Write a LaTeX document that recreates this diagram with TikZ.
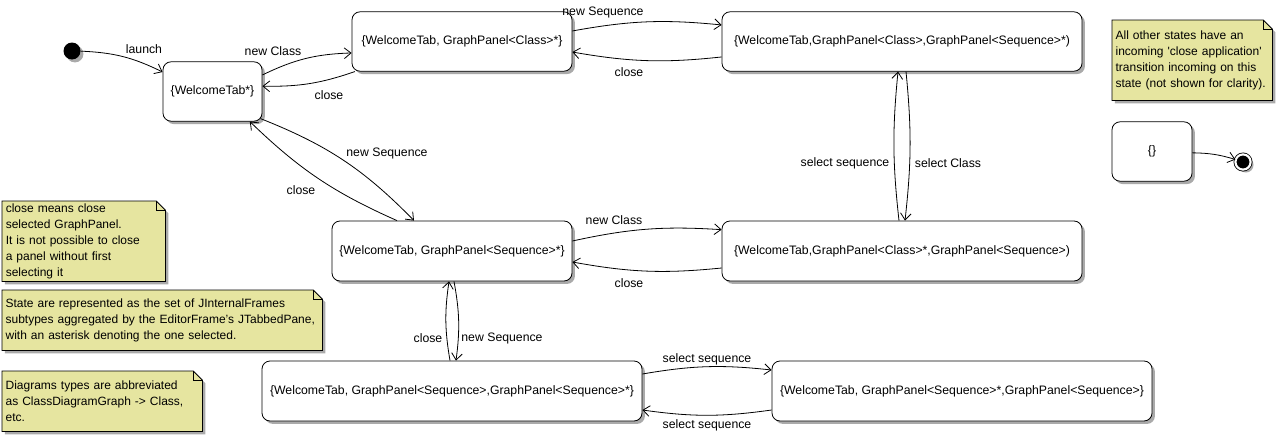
\documentclass[tikz,border=0pt]{standalone}
\usepackage{fontspec}
\setmainfont{Liberation Sans}
\usetikzlibrary{arrows.meta, shadows, backgrounds}
\definecolor{notefill}{RGB}{230,229,160}
\definecolor{shade}{RGB}{170,170,170}

\begin{document}
\begin{tikzpicture}[x=0.75pt, y=-0.75pt,
  font=\fontsize{9.2}{12}\selectfont,
  shd/.style={drop shadow={shadow xshift=2.2pt, shadow yshift=-2.2pt, fill=shade, opacity=1}},
  st/.style={draw, line width=0.6pt, fill=white, rounded corners=6pt, minimum height=44.5pt, inner sep=2pt, shd},
  note/.style={align=left, font=\fontsize{9}{12}\selectfont, inner xsep=2.5pt, inner ysep=0pt, anchor=north west},
  notebg/.style={draw, line width=0.6pt, fill=notefill, shd},
  lbl/.style={inner sep=1pt},
  tr/.style={line width=0.6pt, -{Straight Barb[length=5pt, width=8pt]}},
]
  \useasboundingbox (0,0) rectangle (1278,439);

  \node[circle, fill=black, minimum size=12.75pt, inner sep=0pt, shd] (start) at (72,51) {};
  \node[st, minimum width=74.25pt] (welcome) at (212.5,91.5) {\{WelcomeTab*\}};
  \node[st, minimum width=165pt] (cls) at (462,41.5) {\{WelcomeTab, GraphPanel<Class>*\}};
  \node[st, minimum width=270pt] (clsseq) at (902,41.5) {\{WelcomeTab,GraphPanel<Class>,GraphPanel<Sequence>*)};
  \node[st, minimum width=180pt, minimum height=45pt] (seq) at (452,251) {\{WelcomeTab, GraphPanel<Sequence>*\}};
  \node[st, minimum width=270pt, minimum height=45pt] (clssel) at (902,251) {\{WelcomeTab,GraphPanel<Class>*,GraphPanel<Sequence>)};
  \node[st, minimum width=285pt, minimum height=45pt] (seqseq) at (452,391) {\{WelcomeTab, GraphPanel<Sequence>,GraphPanel<Sequence>*\}};
  \node[st, minimum width=285pt, minimum height=45pt] (seqsel) at (962,391) {\{WelcomeTab, GraphPanel<Sequence>*,GraphPanel<Sequence>\}};
  \node[st, minimum width=60pt] (empty) at (1152,151.5) {\{\}};
  \node[circle, draw, fill=black, line width=0.6pt, double=white, double distance=1.6pt, minimum size=11.4pt, inner sep=0pt, shd] (stop) at (1243,162) {};

  \node[note, minimum width=122.25pt, minimum height=60pt, text width=117pt] (nclose) at (2,201)
    {close means close\\selected GraphPanel.\\It is not possible to close\\a panel without first\\selecting it};
  \node[note, minimum width=240pt, minimum height=45pt, text width=235pt] (nstate) at (2,290)
    {State are represented as the set of JInternalFrames\\subtypes aggregated by the EditorFrame's JTabbedPane,\\with an asterisk denoting the one selected.};
  \node[note, minimum width=150pt, minimum height=45pt, text width=145pt] (ntypes) at (2,371)
    {Diagrams types are abbreviated\\as ClassDiagramGraph -> Class,\\etc.};
  \node[note, minimum width=120pt, minimum height=60pt, text width=115pt] (nother) at (1112,20)
    {All other states have an\\incoming \textquotesingle close application\textquotesingle\\transition incoming on this\\state (not shown for clarity).};
  \begin{scope}[on background layer]
    \foreach \n in {nclose, nstate, ntypes, nother} {
      \draw[notebg] (\n.south west) -- (\n.north west) -- ([xshift=-7pt]\n.north east)
        -- ([yshift=-7pt]\n.north east) -- (\n.south east) -- cycle;
      \draw[line width=0.6pt] ([xshift=-7pt]\n.north east) |- ([yshift=-7pt]\n.north east);
    }
  \end{scope}

  \draw[tr] (start) to[bend left=12] ([yshift=14.6pt]welcome.west);
  \draw[tr] ([yshift=12.4pt]welcome.east) to[bend left=12] ([yshift=-8.6pt]cls.west);
  \draw[tr] ([xshift=2.5pt]cls.south west) to[bend left=10] ([yshift=4pt]welcome.east);
  \draw[tr] ([yshift=7.9pt]cls.east) to[bend left=8] ([yshift=12.4pt]clsseq.west);
  \draw[tr] ([yshift=-11.6pt]clsseq.west) to[bend left=8] ([yshift=-7.9pt]cls.east);
  \draw[tr] ([shift={(-1.5pt,2.25pt)}]welcome.south east) to[bend left=12] ([xshift=-28.5pt]seq.north);
  \draw[tr] ([xshift=-41.25pt]seq.north) to[bend left=10] ([xshift=28pt]welcome.south);
  \draw[tr] ([yshift=7.5pt]seq.east) to[bend left=8] ([yshift=16pt]clssel.west);
  \draw[tr] ([yshift=-12.75pt]clssel.west) to[bend left=8] ([yshift=-8.25pt]seq.east);
  \draw[tr] ([xshift=-2.25pt]clssel.north) to[bend left=6] ([xshift=-3pt]clsseq.south);
  \draw[tr] ([xshift=3pt]clsseq.south) to[bend left=6] ([xshift=2.25pt]clssel.north);
  \draw[tr] ([xshift=-1.5pt]seqseq.north) to[bend left=9] ([xshift=-2.25pt]seq.south);
  \draw[tr] ([xshift=1.5pt]seq.south) to[bend left=9] ([xshift=3pt]seqseq.north);
  \draw[tr] ([yshift=12.75pt]seqseq.east) to[bend left=8] ([yshift=15.75pt]seqsel.west);
  \draw[tr] ([yshift=-14.25pt]seqsel.west) to[bend left=8] ([yshift=-14.25pt]seqseq.east);
  \draw[tr] ([yshift=-1pt]empty.east) to[bend left=8] (stop);

  \node[lbl] (llaunch) at (144,49) {launch};
  \node[lbl] (lnewcls) at (273,51) {new Class};
  \node[lbl] (lclose1) at (329,95) {close};
  \node[lbl] (lnewseq1) at (603,12) {new Sequence};
  \node[lbl] (lclose2) at (629,72) {close};
  \node[lbl] (lnewseq2) at (387,153) {new Sequence};
  \node[lbl] (lclose3) at (301,190) {close};
  \node[lbl] (lnewcls2) at (614,220) {new Class};
  \node[lbl] (lclose4) at (629,283) {close};
  \node[lbl] (lselseq1) at (845,163) {select sequence};
  \node[lbl] (lselcls) at (948,163) {select Class};
  \node[lbl] (lclose5) at (428,338) {close};
  \node[lbl] (lnewseq3) at (502,338) {new Sequence};
  \node[lbl] (lselseq2) at (707,359) {select sequence};
  \node[lbl] (lselseq3) at (707,425) {select sequence};
\end{tikzpicture}
\end{document}
